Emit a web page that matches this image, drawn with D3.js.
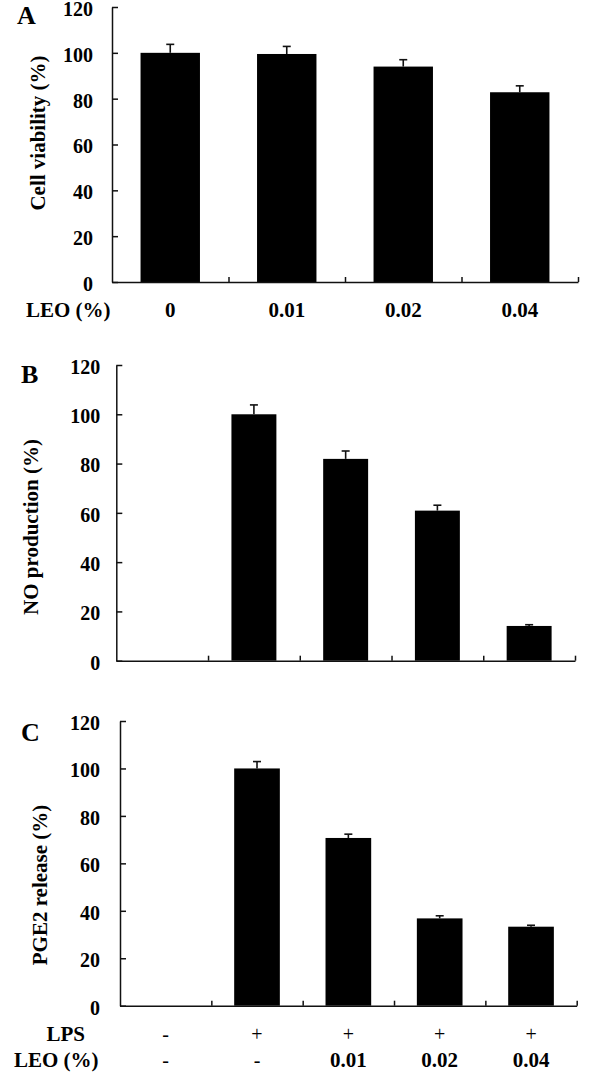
<!DOCTYPE html>
<html>
<head>
<meta charset="utf-8">
<script src="https://cdn.jsdelivr.net/npm/d3@7"></script>
<style>
  html, body { margin: 0; padding: 0; background: #fff; }
  svg { display: block; }
  text { font-family: "Liberation Serif", "Times New Roman", serif; fill: #000; }
</style>
</head>
<body>
<svg id="chart" width="602" height="1079"></svg>
<script>
// ---------- data ----------
const yTicks = [0, 20, 40, 60, 80, 100, 120];

const groupsA = ["0", "0.01", "0.02", "0.04"];
const viability = [100, 99.5, 94, 82.8];
const viabilityErr = [3.7, 3.3, 3.0, 2.8];

const lpsLabels = ["-", "+", "+", "+", "+"];
const leoLabels = ["-", "-", "0.01", "0.02", "0.04"];
const groupsBC = ["ctrl", "lps", "lps+0.01", "lps+0.02", "lps+0.04"];

const noProduction = [0, 100, 81.9, 60.9, 14.1];
const noErr = [0, 3.8, 3.2, 2.2, 0.5];

const pge2Release = [0, 100, 70.7, 36.8, 33.3];
const pge2Err = [0, 2.9, 1.6, 1.1, 0.6];

// ---------- drawing ----------
const svg = d3.select("#chart");

function panel(cfg) {
  const g = svg.append("g");
  const x = d3.scaleBand().domain(cfg.groups).range([cfg.x0, cfg.x1]).padding(0);
  const bnd = d3.scaleLinear().domain([0, cfg.groups.length]).range([cfg.x0, cfg.x1]);
  const y = d3.scaleLinear().domain([0, 120]).range([cfg.yBottom, cfg.yTop]);
  const bw = x.bandwidth() * cfg.barFrac;

  const data = cfg.groups.map((k, i) => ({ k, v: cfg.values[i], e: cfg.errs[i] }));

  // bars
  g.selectAll("rect.bar").data(data.filter(d => d.v > 0)).join("rect")
    .attr("class", "bar")
    .attr("x", d => x(d.k) + (x.bandwidth() - bw) / 2)
    .attr("width", bw)
    .attr("y", d => y(d.v))
    .attr("height", d => y(0) - y(d.v))
    .attr("fill", "#000");

  // error bars
  const eb = g.selectAll("g.err").data(data.filter(d => d.v > 0)).join("g").attr("class", "err");
  eb.append("line")
    .attr("x1", d => x(d.k) + x.bandwidth() / 2).attr("x2", d => x(d.k) + x.bandwidth() / 2)
    .attr("y1", d => y(d.v)).attr("y2", d => y(d.v + d.e))
    .attr("stroke", "#111").attr("stroke-width", 1.6);
  eb.append("line")
    .attr("x1", d => x(d.k) + x.bandwidth() / 2 - 4).attr("x2", d => x(d.k) + x.bandwidth() / 2 + 4)
    .attr("y1", d => y(d.v + d.e)).attr("y2", d => y(d.v + d.e))
    .attr("stroke", "#111").attr("stroke-width", 1.6);

  // y axis
  const ya = g.append("g").attr("transform", `translate(${cfg.x0},0)`)
    .call(d3.axisLeft(y).tickValues(yTicks).tickSizeInner(-6).tickSizeOuter(0).tickPadding(cfg.tickPad));
  ya.select(".domain").attr("stroke", "#111").attr("stroke-width", 1.5);
  ya.selectAll(".tick line").attr("stroke", "#111").attr("stroke-width", 1.5);
  ya.selectAll(".tick text")
    .style("font-family", "'Liberation Serif', serif")
    .style("font-size", "20px").style("font-weight", "bold").attr("fill", "#000")
    .attr("dy", "0.42em");

  // x axis (boundary ticks pointing up)
  const xa = g.append("g").attr("transform", `translate(0,${cfg.yBottom})`)
    .call(d3.axisBottom(bnd).tickValues(d3.range(1, cfg.groups.length + 1))
      .tickSizeInner(-5).tickSizeOuter(0).tickFormat(""));
  xa.select(".domain").attr("stroke", "#111").attr("stroke-width", 1.5);
  xa.selectAll(".tick line").attr("stroke", "#111").attr("stroke-width", 1.5);

  // panel letter
  g.append("text").attr("x", cfg.letterX).attr("y", cfg.letterY)
    .style("font-size", "26px").style("font-weight", "bold").text(cfg.letter);

  // y label
  g.append("text")
    .attr("transform", `translate(${cfg.labelX},${cfg.labelY}) rotate(-90)`)
    .attr("text-anchor", "middle").attr("dominant-baseline", "central")
    .style("font-size", "21px").style("font-weight", "bold").text(cfg.yLabel);

  return { g, x };
}

// Panel A
const A = panel({
  groups: groupsA, values: viability, errs: viabilityErr,
  x0: 112, x1: 578, yBottom: 282, yTop: 7, barFrac: 0.51, tickPad: 19,
  letter: "A", letterX: 17, letterY: 24,
  yLabel: "Cell viability  (%)", labelX: 38, labelY: 133
});
A.g.selectAll("text.cat").data(groupsA).join("text").attr("class", "cat")
  .attr("x", d => A.x(d) + A.x.bandwidth() / 2).attr("y", 310)
  .attr("text-anchor", "middle").attr("dominant-baseline", "central")
  .style("font-size", "21px").style("font-weight", "bold").text(d => d);
A.g.append("text").attr("x", 26).attr("y", 310).attr("dominant-baseline", "central")
  .style("font-size", "21px").style("font-weight", "bold").text("LEO (%)");

// Panel B
panel({
  groups: groupsBC, values: noProduction, errs: noErr,
  x0: 116.3, x1: 575, yBottom: 660.7, yTop: 365, barFrac: 0.49, tickPad: 16,
  letter: "B", letterX: 21, letterY: 383,
  yLabel: "NO production (%)", labelX: 31, labelY: 527
});

// Panel C
const C = panel({
  groups: groupsBC, values: pge2Release, errs: pge2Err,
  x0: 120, x1: 576.7, yBottom: 1005.7, yTop: 721, barFrac: 0.5, tickPad: 20,
  letter: "C", letterX: 21, letterY: 741,
  yLabel: "PGE2 release (%)", labelX: 40, labelY: 885
});
C.g.selectAll("text.lps").data(groupsBC).join("text").attr("class", "lps")
  .attr("x", d => C.x(d) + C.x.bandwidth() / 2).attr("y", 1034)
  .attr("text-anchor", "middle").attr("dominant-baseline", "central")
  .style("font-size", "20px").text((d, i) => lpsLabels[i]);
C.g.selectAll("text.leo").data(groupsBC).join("text").attr("class", "leo")
  .attr("x", d => C.x(d) + C.x.bandwidth() / 2).attr("y", 1060)
  .attr("text-anchor", "middle").attr("dominant-baseline", "central")
  .style("font-size", (d, i) => leoLabels[i] === "-" ? "20px" : "21px")
  .style("font-weight", (d, i) => leoLabels[i] === "-" ? "normal" : "bold")
  .text((d, i) => leoLabels[i]);
C.g.append("text").attr("x", 85).attr("y", 1034).attr("text-anchor", "end").attr("dominant-baseline", "central")
  .style("font-size", "21px").style("font-weight", "bold").text("LPS");
C.g.append("text").attr("x", 14).attr("y", 1060).attr("dominant-baseline", "central")
  .style("font-size", "21px").style("font-weight", "bold").text("LEO (%)");
</script>
</body>
</html>
